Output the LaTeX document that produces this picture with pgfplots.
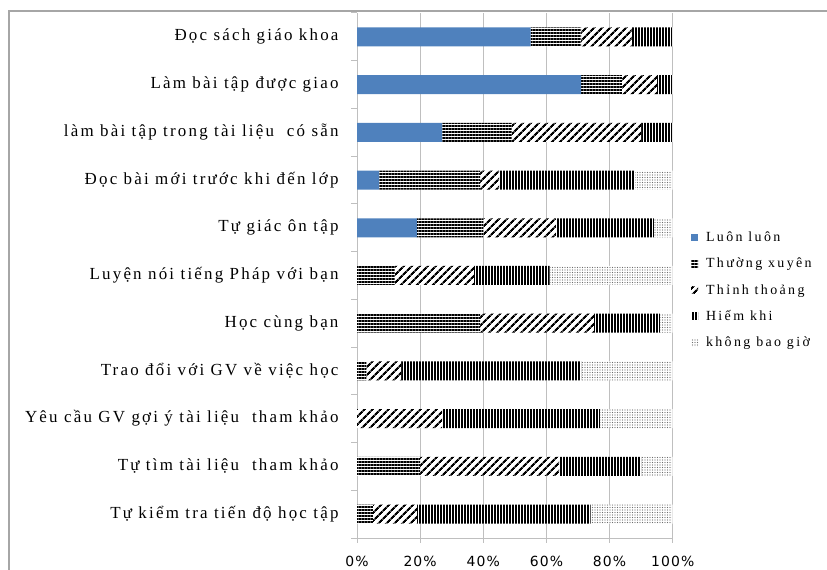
\documentclass[border=0pt]{standalone}
\usepackage{fontspec}
\setmainfont{Liberation Serif}
\newfontfamily\labfont{Liberation Serif}[LetterSpace=13]
\newfontfamily\legfont{Liberation Serif}[LetterSpace=17]
\newfontfamily\tickfont{DejaVu Sans}[LetterSpace=8]
\usepackage{pgfplots}
\pgfplotsset{compat=1.18}
\usepackage{pgfplotstable}
\usetikzlibrary{patterns.meta}

\definecolor{luon}{HTML}{4F81BD}
\definecolor{gridc}{HTML}{BFBFBF}
\definecolor{framec}{HTML}{A6A6A6}

% rows from bottom (0) to top (10); values in percent
\pgfplotstableread{
idx a  b  c  d  e
10  55 16 16 13 0
9   71 13 11 5  0
8   27 22 41 10 0
7   7  32 6  43 12
6   19 21 23 31 6
5   0  12 25 24 39
4   0  39 36 21 4
3   0  3  11 57 29
2   0  0  27 50 23
1   0  20 44 26 10
0   0  5  14 55 26
}\data

\pgfplotsset{
  mylegend/.style={legend image code/.code={\path[##1,draw=none] (0bp,-3.5bp) rectangle (7bp,3.5bp);}},
}

\begin{document}
\begin{tikzpicture}
\path[use as bounding box] (0bp,0bp) rectangle (827bp,570bp);
\draw[framec, line width=1.5bp] (9bp,0bp) -- (9bp,559bp) -- (827bp,559bp);
\begin{axis}[
  at={(357bp,32bp)}, anchor=south west,
  scale only axis, width=315.7bp, height=525bp,
  xbar stacked, bar width=19bp,
  xmin=0, xmax=100, ymin=-0.5, ymax=10.5,
  axis x line*=bottom, axis y line*=left,
  axis line style={gridc, line width=1bp},
  xtick={0,20,...,100},
  xticklabel={\pgfmathprintnumber{\tick}\%},
  xticklabel style={font=\tickfont\fontsize{14}{16}\selectfont, yshift=-10bp},
  /pgf/number format/assume math mode=true,
  xmajorgrids, major grid style={gridc, line width=1bp},
  tick align=outside, major tick length=5bp,
  tick style={gridc, line width=1bp},
  ytick={0,...,10}, ytick style={draw=none},
  yticklabels={Tự kiểm tra tiến độ học tập, Tự tìm tài liệu\ \ tham khảo, Yêu cầu GV gợi ý tài liệu\ \ tham khảo, Trao đổi với GV về việc học, Học cùng bạn, Luyện nói tiếng Pháp với bạn, Tự giác ôn tập, Đọc bài mới trước khi đến lớp, làm bài tập trong tài liệu\ \ có sẵn, Làm bài tập được giao, Đọc sách giáo khoa},
  yticklabel style={font=\labfont\fontsize{17}{19}\selectfont, xshift=-10bp},
  extra y ticks={-0.5,0.5,...,10.5}, extra y tick labels={},
  extra y tick style={grid=none, ytick style={draw=gridc}, major tick length=6bp},
  legend style={at={(1.048,0.472)}, anchor=west, draw=none, fill=none,
    font=\legfont\fontsize{14}{16}\selectfont, row sep=11bp, cells={anchor=west},
    /tikz/every odd column/.style={column sep=6bp}},
]
\addplot[draw=none, fill=luon, mylegend] table[x=a, y=idx] {\data};
\addlegendentry{Luôn luôn}
\addplot[draw=none, fill=white, postaction={pattern={Lines[angle=0,distance=3bp,line width=1.5bp]}}, mylegend] table[x=b, y=idx] {\data};
\addlegendentry{Thường xuyên}
\addplot[draw=none, fill=white, postaction={pattern={Lines[angle=45,distance=6bp,line width=2.5bp]}}, mylegend] table[x=c, y=idx] {\data};
\addlegendentry{Thỉnh thoảng}
\addplot[draw=none, fill=white, postaction={pattern={Lines[angle=90,distance=3bp,line width=1.5bp]}}, mylegend] table[x=d, y=idx] {\data};
\addlegendentry{Hiếm khi}
\addplot[draw=none, fill=white, postaction={pattern={Dots[distance=2.5bp,radius=0.7bp]}, pattern color=gray!85!black}, mylegend] table[x=e, y=idx] {\data};
\addlegendentry{không bao giờ}
\end{axis}
\end{tikzpicture}
\end{document}
